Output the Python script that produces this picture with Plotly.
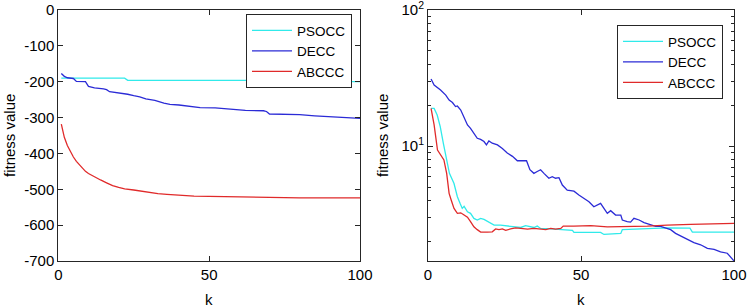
import plotly.graph_objects as go

# ---------------- data (left: linear scale) ----------------
k_pso_L = [1, 22, 23, 79, 80, 100]
pso_L = [-190, -190, -196, -196, -200, -200]

k_de_L = [1, 2, 3, 4, 5, 6, 8, 9, 10, 12, 15, 16, 17, 20, 23, 25, 27, 29, 32, 35, 37, 40,
          44, 47, 52, 55, 58, 62, 68, 69, 70, 75, 80, 85, 90, 95, 100]
de_L = [-177, -185, -189, -190, -191, -199, -199, -200, -213, -217, -220, -222, -228, -231,
        -235, -239, -242, -248, -252, -260, -263, -265, -268, -272, -273, -275, -278, -280,
        -281, -283, -290, -290, -292, -295, -297, -298, -302]

k_abc_L = [1, 2, 3, 4, 5, 6, 7, 8, 9, 10, 12, 14, 16, 18, 20, 22, 25, 28, 30, 33, 36, 40,
           45, 50, 55, 60, 70, 80, 100]
abc_L = [-318, -355, -378, -395, -410, -422, -432, -442, -450, -456, -466, -474, -482, -490,
         -495, -499, -502, -506, -509, -512, -514, -517, -519, -520, -521, -522, -523, -524, -524]

y_ticks_L = [-700, -600, -500, -400, -300, -200, -100, 0]
y_ticktext_L = ["-700", "-600", "-500", "-400", "-300", "-200", "-100", "0"]
x_ticks = [0, 50, 100]

# ---------------- data (right: log scale) ----------------
k_pso_R = [1, 2, 3, 4, 5, 6, 7, 8.5, 9.6, 10.5, 11.2, 11.8, 12.9, 13.9, 15, 16.1, 17.2, 18.3,
           19.9, 21.6, 23.7, 25.9, 28.1, 30.3, 31.9, 33, 34.6, 35.7, 36.8, 39, 41.7, 44.4,
           47.2, 47.7, 52, 56.4, 57.5, 63, 63.5, 69.5, 73.9, 78.2, 85.6, 86.4, 100]
pso_R = [18.9, 18.9, 16.9, 13.9, 10.5, 7.9, 6.3, 5.3, 4.24, 3.78, 3.48, 3.6, 3.29, 3.2, 2.94,
         2.86, 2.94, 2.89, 2.76, 2.62, 2.62, 2.58, 2.55, 2.52, 2.6, 2.58, 2.52, 2.58, 2.48,
         2.47, 2.45, 2.43, 2.4, 2.32, 2.32, 2.32, 2.24, 2.28, 2.43, 2.45, 2.47, 2.5, 2.49,
         2.33, 2.33]

k_de_R = [1, 2, 4.1, 5.8, 6.9, 8, 9, 9.6, 10.7, 11.8, 12.9, 13.9, 15, 16.1, 17.2, 18.3, 19.1,
          19.9, 21, 22.7, 24.3, 25.9, 27.6, 29.2, 30.8, 32.2, 33.3, 34.6, 35.7, 36.8, 37.9,
          39.5, 40.6, 41.7, 42.8, 43.9, 45.5, 47.7, 49.3, 51, 52.6, 54.2, 55.3, 56.4, 57.5,
          58.6, 59.7, 61.3, 63, 63.5, 65.1, 66.2, 67.3, 69, 70.6, 72.8, 74.4, 76, 77.7, 79.3,
          80.9, 83.1, 85.3, 86.9, 89.1, 91.3, 93.5, 95.6, 97.8, 99.5, 100]
de_R = [31.1, 28.1, 25.8, 23.7, 21.8, 20.9, 19.5, 19.7, 18.4, 16.4, 14.3, 13.5, 12.4, 11.4,
        11.2, 10.8, 10.2, 10.9, 10.5, 10.2, 9.6, 8.9, 8.4, 7.8, 7.8, 7.8, 6.7, 6.3, 6.5, 6.7,
        6.3, 5.8, 5.96, 5.8, 5.85, 5.17, 4.74, 4.66, 4.36, 4.12, 3.9, 3.58, 3.68, 3.79, 3.48,
        3.2, 3.35, 3.11, 3.11, 2.86, 2.78, 2.76, 2.94, 2.86, 2.74, 2.62, 2.57, 2.57, 2.48,
        2.43, 2.28, 2.15, 2.01, 1.95, 1.88, 1.77, 1.74, 1.67, 1.63, 1.47, 1.43]

k_abc_R = [1, 2, 3.1, 4.1, 5.2, 6.1, 6.9, 7.6, 8.5, 9.6, 10.7, 11.8, 12.9, 13.9, 15, 16.1,
           17.2, 19.4, 21, 22.1, 23.2, 24.3, 25.4, 27, 28.6, 30.3, 32.5, 34.6, 36.8, 38.5,
           40.1, 41.7, 43.4, 44.2, 47.7, 53.2, 58.6, 65.1, 71.7, 78.2, 85.8, 100]
abc_R = [18.9, 14.3, 9.35, 8.6, 7.9, 6.3, 4.49, 4.0, 3.48, 3.2, 3.23, 3.11, 3.0, 2.78, 2.55,
         2.43, 2.33, 2.33, 2.34, 2.46, 2.43, 2.46, 2.4, 2.46, 2.5, 2.48, 2.45, 2.48, 2.46,
         2.43, 2.48, 2.45, 2.48, 2.58, 2.58, 2.6, 2.55, 2.55, 2.58, 2.62, 2.66, 2.70]

y_ticks_R = [10, 100]
y_ticktext_R = ["10<sup>1</sup>", "10<sup>2</sup>"]
y_minor_R = [2, 3, 4, 5, 6, 7, 8, 9, 20, 30, 40, 50, 60, 70, 80, 90]

names = ["PSOCC", "DECC", "ABCCC"]
colors = ["#30eaea", "#2b2bd6", "#e02a2a"]

W, H = 748, 307
FONT = "Liberation Sans, Arial, Helvetica, sans-serif"
AX = "#262626"

fig = go.Figure()
left_sets = [(k_pso_L, pso_L), (k_de_L, de_L), (k_abc_L, abc_L)]
right_sets = [(k_pso_R, pso_R), (k_de_R, de_R), (k_abc_R, abc_R)]
for (kx, v), n, c in zip(left_sets, names, colors):
    fig.add_trace(go.Scatter(x=kx, y=v, mode="lines", name=n, line=dict(color=c, width=1.3),
                             xaxis="x", yaxis="y", legend="legend"))
for (kx, v), n, c in zip(right_sets, names, colors):
    fig.add_trace(go.Scatter(x=kx, y=v, mode="lines", name=n, line=dict(color=c, width=1.3),
                             xaxis="x2", yaxis="y2", legend="legend2"))

px = lambda p: p / W
py = lambda p: (H - p) / H

common = dict(showline=True, linecolor=AX, linewidth=1, mirror="ticks", ticks="inside",
              ticklen=5, tickcolor=AX, showgrid=False, zeroline=False, automargin=False,
              ticklabeloverflow="allow",
              tickfont=dict(family=FONT, size=15, color="#000"))

legend_style = dict(xanchor="left", yanchor="top", bgcolor="white", bordercolor=AX,
                    borderwidth=1, font=dict(family=FONT, size=13.5, color="#000"),
                    tracegroupgap=0, itemwidth=40)

fig.update_layout(
    width=W, height=H, margin=dict(l=0, r=0, t=0, b=0, autoexpand=False),
    paper_bgcolor="white", plot_bgcolor="white",
    font=dict(family=FONT, size=14, color="#000"),
    xaxis=dict(domain=[px(58.3), px(360)], range=[0, 100], tickvals=x_ticks,
               anchor="y", **common),
    yaxis=dict(domain=[py(261), py(10)], range=[-700, 0],
               tickvals=y_ticks_L, ticktext=y_ticktext_L, anchor="x", **common),
    xaxis2=dict(domain=[px(428), px(734)], range=[0, 100], tickvals=x_ticks,
                anchor="y2", **common),
    yaxis2=dict(domain=[py(261), py(10)], type="log", range=[0.155, 2.0001],
                tickvals=y_ticks_R, ticktext=y_ticktext_R, anchor="x2",
                minor=dict(tickvals=y_minor_R, ticks="inside", ticklen=3, tickcolor=AX),
                **common),
    legend=dict(x=px(246), y=py(14), **legend_style),
    legend2=dict(x=px(617), y=py(25), **legend_style),
    showlegend=True,
)

annots = [
    dict(text="fitness value", x=px(9), y=py(136), textangle=-90),
    dict(text="fitness value", x=px(382), y=py(136), textangle=-90),
    dict(text="k", x=px(209), y=py(299)),
    dict(text="k", x=px(581), y=py(299)),
]
for a in annots:
    fig.add_annotation(xref="paper", yref="paper", showarrow=False, xanchor="center",
                       yanchor="middle", font=dict(family=FONT, size=15, color="#000"), **a)

fig.write_html(
    "out.html",
    config={"displayModeBar": False},
    post_script="document.body.style.margin='0';document.body.style.padding='0';"
                "document.body.style.overflow='hidden';",
)
